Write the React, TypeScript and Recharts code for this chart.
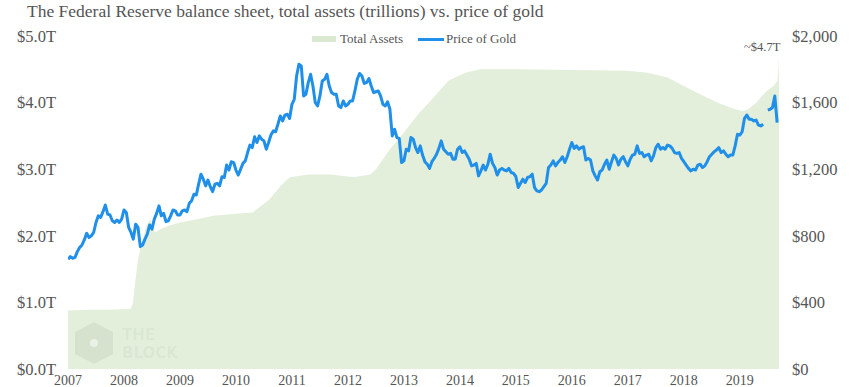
import { ComposedChart, Area, Line, XAxis, YAxis, Legend } from "recharts";

// gold, USD/oz, two readings per month from Jul 2007 to mid Mar 2020
const goldStart = 2007.5;
const goldPrices: (number | null)[] = [
  // 2007 Jul-Dec
  660, 675, 665, 670, 705, 730, 745, 775, 815, 790, 800, 820,
  // 2008
  880, 920, 910, 945, 985, 930, 925, 890, 880, 895, 880, 900,
  955, 940, 850, 820, 780, 870, 850, 735, 745, 780, 810, 865,
  // 2009
  840, 900, 935, 980, 920, 935, 885, 890, 920, 955, 950, 925,
  925, 950, 955, 945, 995, 1010, 1050, 1045, 1110, 1170, 1140, 1100,
  // 2010
  1135, 1095, 1065, 1110, 1115, 1100, 1155, 1150, 1225, 1195, 1245, 1240,
  1195, 1165, 1200, 1235, 1250, 1300, 1345, 1330, 1395, 1360, 1400, 1380,
  // 2011
  1370, 1320, 1360, 1405, 1430, 1425, 1470, 1520, 1490, 1525, 1530, 1505,
  1590, 1620, 1760, 1830, 1820, 1640, 1650, 1720, 1770, 1700, 1600, 1580,
  // 2012
  1640, 1730, 1740, 1770, 1700, 1660, 1650, 1650, 1580, 1570, 1610, 1580,
  1590, 1610, 1610, 1670, 1740, 1775, 1760, 1715, 1720, 1745, 1700, 1660,
  // 2013
  1665, 1670, 1640, 1590, 1580, 1605, 1560, 1400, 1440, 1390, 1385, 1240,
  1250, 1320, 1310, 1390, 1380, 1330, 1300, 1340, 1285, 1245, 1230, 1205,
  // 2014
  1245, 1265, 1290, 1325, 1370, 1320, 1305, 1290, 1295, 1260, 1260, 1320,
  1335, 1300, 1310, 1285, 1260, 1220, 1225, 1235, 1160, 1190, 1225, 1195,
  // 2015
  1230, 1290, 1235, 1210, 1165, 1195, 1205, 1195, 1190, 1205, 1180, 1175,
  1155, 1090, 1115, 1140, 1120, 1150, 1155, 1170, 1090, 1070, 1065, 1075,
  // 2016
  1095, 1115, 1210, 1225, 1250, 1220, 1240, 1255, 1275, 1240, 1275, 1320,
  1360, 1325, 1340, 1320, 1330, 1335, 1255, 1265, 1255, 1190, 1160, 1135,
  // 2017
  1185, 1195, 1230, 1255, 1200, 1245, 1285, 1265, 1225, 1260, 1275, 1245,
  1220, 1260, 1285, 1290, 1340, 1295, 1300, 1275, 1285, 1290, 1250, 1280,
  // 2018
  1330, 1350, 1320, 1330, 1320, 1345, 1340, 1325, 1300, 1295, 1300, 1265,
  1245, 1225, 1205, 1190, 1200, 1195, 1225, 1230, 1210, 1220, 1245, 1275,
  // 2019
  1290, 1305, 1315, 1330, 1300, 1310, 1290, 1275, 1285, 1285, 1340, 1410,
  1405, 1425, 1505, 1525, 1500, 1500, 1490, 1495, 1465, 1460, 1470, null,
  // 2020 Jan-Mar
  1555, 1560, 1570, 1640, 1480,
];

// Fed total assets, trillions USD: [year, value]
const fedAssets: [number, number][] = [
  [2007.5, 0.88], [2007.9, 0.89], [2008.2, 0.89], [2008.62, 0.9], [2008.66, 1.0],
  [2008.7, 1.3], [2008.75, 1.65], [2008.82, 1.9], [2008.9, 2.15], [2008.97, 2.25],
  [2009.05, 2.05], [2009.15, 2.1], [2009.3, 2.15], [2009.5, 2.2], [2009.8, 2.25],
  [2010.1, 2.3], [2010.5, 2.33], [2010.8, 2.35], [2011.1, 2.55], [2011.3, 2.75],
  [2011.46, 2.88], [2011.8, 2.92], [2012.2, 2.92], [2012.6, 2.88], [2012.9, 2.92],
  [2013.0, 3.0], [2013.25, 3.3], [2013.5, 3.55], [2013.75, 3.82], [2014.0, 4.05],
  [2014.3, 4.33], [2014.6, 4.45], [2014.85, 4.5], [2015.5, 4.5], [2016.5, 4.49],
  [2017.5, 4.48], [2017.85, 4.45], [2018.2, 4.38], [2018.5, 4.25], [2018.8, 4.12],
  [2019.1, 4.0], [2019.35, 3.92], [2019.55, 3.87], [2019.65, 3.9], [2019.8, 4.0],
  [2019.95, 4.15], [2020.1, 4.25], [2020.17, 4.32], [2020.19, 4.5], [2020.2, 4.7],
];

const yearTicks = [2007.5, 2008.5, 2009.5, 2010.5, 2011.5, 2012.5, 2013.5, 2014.5, 2015.5, 2016.5, 2017.5, 2018.5, 2019.5];
const yearLabels = ["2007", "2008", "2009", "2010", "2011", "2012", "2013", "2014", "2015", "2016", "2017", "2018", "2019"];
const assetTicks = [0, 1, 2, 3, 4, 5];
const goldTicks = [0, 400, 800, 1200, 1600, 2000];

const goldData = goldPrices.map((p, i) => ({ x: goldStart + i / 24, gold: p }));
const fedData = fedAssets.map(([x, v]) => ({ x, assets: v }));

const serif = "'Liberation Serif', 'Times New Roman', serif";
const tickStyle = { fontSize: 16.5, fill: "#555", fontFamily: serif };
const goldColor = "#1f8fea";
const areaColor = "#e3efda";

function LegendContent() {
  return (
    <div
      style={{
        display: "flex",
        alignItems: "center",
        fontFamily: serif,
        fontSize: 13,
        color: "#555",
        whiteSpace: "nowrap",
      }}
    >
      <span style={{ display: "inline-block", width: 24, height: 6, background: "#d9e8cf", marginRight: 4 }} />
      Total Assets
      <span style={{ display: "inline-block", width: 26, height: 3, background: goldColor, marginLeft: 15, marginRight: 2 }} />
      Price of Gold
    </div>
  );
}

export default function App() {
  return (
    <div
      style={{
        position: "absolute",
        left: 0,
        top: 0,
        width: 853,
        height: 387,
        overflow: "hidden",
        background: "#fff",
        fontFamily: serif,
      }}
    >
      <div
        style={{
          position: "absolute",
          left: 27,
          top: 1,
          fontFamily: serif,
          fontSize: 17.5,
          color: "#555",
          whiteSpace: "nowrap",
        }}
      >
        The Federal Reserve balance sheet, total assets (trillions) vs. price of gold
      </div>
      <ComposedChart
        width={853}
        height={387}
        margin={{ top: 36, right: 0, bottom: 0, left: 0 }}
        style={{ fontFamily: serif }}
      >
        <XAxis
          dataKey="x"
          type="number"
          domain={[2007.5, 2020.2]}
          allowDataOverflow
          ticks={yearTicks}
          tickFormatter={(v: number) => yearLabels[yearTicks.indexOf(v)] ?? ""}
          tick={{ fontSize: 14, fill: "#555", fontFamily: serif }}
          axisLine={false}
          tickLine={false}
          tickMargin={0}
          height={18}
          interval={0}
        />
        <YAxis
          yAxisId="assets"
          orientation="left"
          domain={[0, 5]}
          ticks={assetTicks}
          tickFormatter={(v: number) => `$${v.toFixed(1)}T`}
          tick={tickStyle}
          axisLine={false}
          tickLine={false}
          tickMargin={6}
          width={68}
        />
        <YAxis
          yAxisId="gold"
          orientation="right"
          domain={[0, 2000]}
          ticks={goldTicks}
          tickFormatter={(v: number) => `$${v.toLocaleString("en-US")}`}
          tick={tickStyle}
          axisLine={false}
          tickLine={false}
          tickMargin={7}
          width={74}
        />
        <Legend
          verticalAlign="middle"
          align="center"
          content={<LegendContent />}
          wrapperStyle={{ top: 31, left: 312, width: 230 }}
        />
        <Area
          yAxisId="assets"
          data={fedData}
          dataKey="assets"
          name="Total Assets"
          type="linear"
          fill={areaColor}
          fillOpacity={1}
          stroke="none"
          isAnimationActive={false}
        />
        <Line
          yAxisId="gold"
          data={goldData}
          dataKey="gold"
          name="Price of Gold"
          type="linear"
          stroke={goldColor}
          strokeWidth={3}
          dot={false}
          strokeLinejoin="round"
          isAnimationActive={false}
        />
      </ComposedChart>
      <svg style={{ position: "absolute", left: 72, top: 320 }} width={110} height={46}>
        <polygon points="22,2 41,12 41,34 22,44 3,34 3,12" fill="#000" fillOpacity={0.05} />
        <circle cx={22} cy={23} r={4} fill="#fff" fillOpacity={0.5} />
        <text x={50} y={20} fontFamily="'DejaVu Sans', sans-serif" fontWeight="bold" fontSize={15} fill="#000" fillOpacity={0.05}>
          THE
        </text>
        <text x={50} y={38} fontFamily="'DejaVu Sans', sans-serif" fontWeight="bold" fontSize={15} fill="#000" fillOpacity={0.05}>
          BLOCK
        </text>
      </svg>
      <div
        style={{
          position: "absolute",
          left: 744,
          top: 40,
          fontFamily: serif,
          fontSize: 12.5,
          color: "#555",
        }}
      >
        ~$4.7T
      </div>
    </div>
  );
}
